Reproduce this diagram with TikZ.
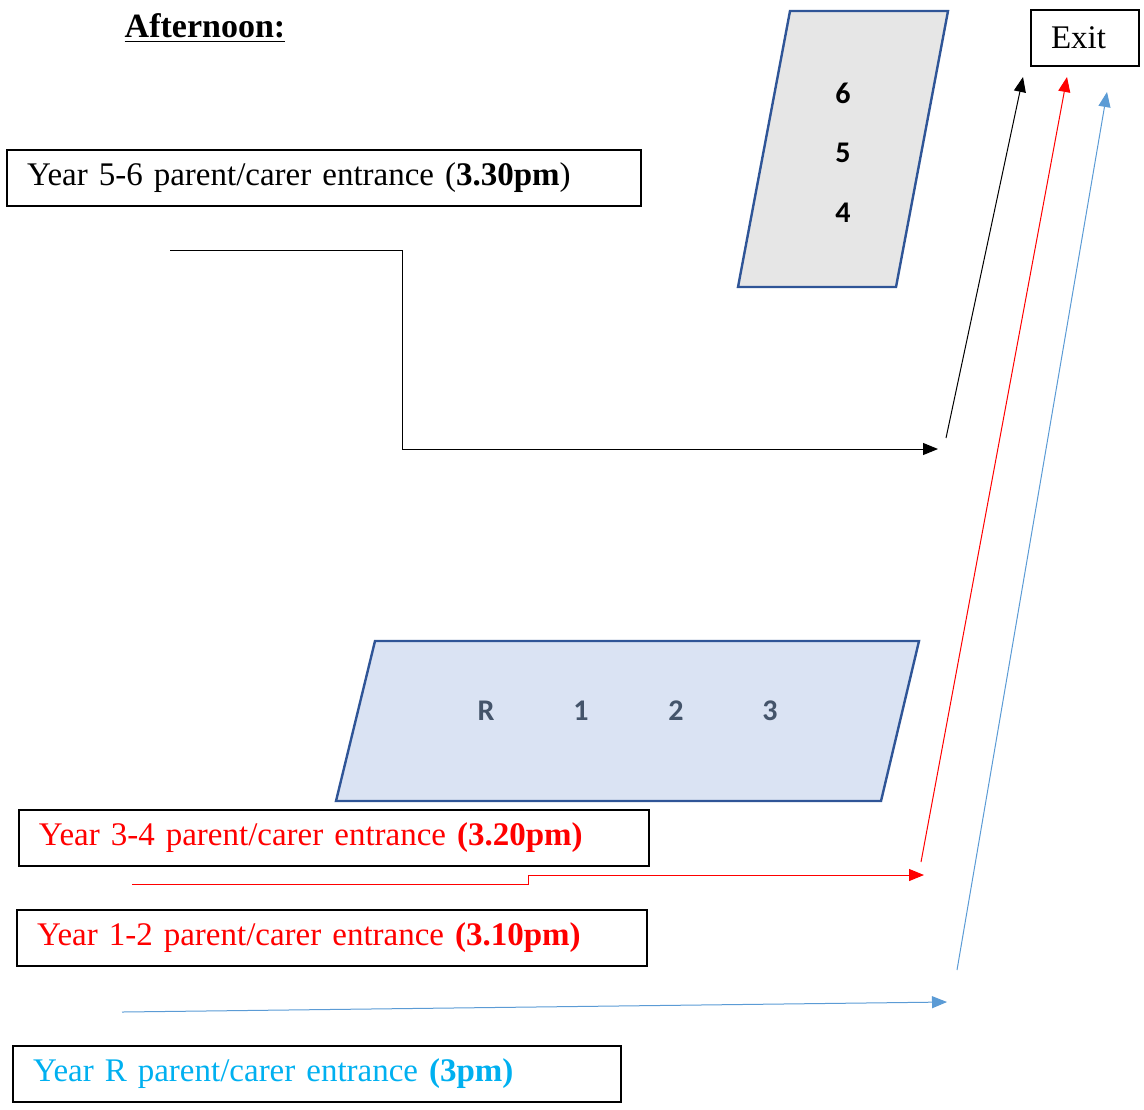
\documentclass[tikz,border=0pt]{standalone}
\usepackage{fontspec}
\setmainfont{Liberation Serif}
\newfontfamily\roomfont{Carlito}
\usepackage{xcolor}
\usetikzlibrary{calc, arrows.meta, positioning}

\definecolor{roomedge}{HTML}{2F5597}
\definecolor{roomgrey}{HTML}{E6E6E6}
\definecolor{roomblue}{HTML}{DAE3F3}
\definecolor{roomtext}{HTML}{44546A}
\definecolor{pathblue}{HTML}{5B9BD5}
\definecolor{textcyan}{HTML}{00B0F0}

\begin{document}
\begin{tikzpicture}[x=0.5pt, y=-0.5pt, >={Triangle[length=7.5pt, width=6pt]}, font=\fontsize{16.5}{19}\selectfont]
	\tikzstyle{entry} = [draw=black, line width=1pt, rectangle, anchor=north west, minimum height=28pt, inner xsep=10pt, align=left]
	\tikzstyle{room} = [draw=roomedge, line width=1.2pt]
	\tikzstyle{year} = [font=\roomfont\bfseries\fontsize{15}{18}\selectfont]
	\tikzstyle{walk} = [line width=0.5pt]
	
	\useasboundingbox (0,0) rectangle (1144,1109);
	
	\node[font=\fontsize{17}{20}\selectfont]	at (205,28)		(title)	{\underline{\textbf{Afternoon:}}};
	\node[entry, text width=34pt]				at (1030,9)		(exit)	{Exit};
	
	% classrooms
	\draw[room, fill=roomgrey] (790,11) -- (948,11) -- (896,287) -- (738,287) -- cycle;
	\draw[room, fill=roomblue] (375,641) -- (919,641) -- (881,801) -- (336,801) -- cycle;
	\node[year]					at (843,93)		(y6)	{6};
	\node[year]					at (843,153)	(y5)	{5};
	\node[year]					at (843,213)	(y4)	{4};
	\node[year, text=roomtext]	at (486,711)	(yR)	{R};
	\node[year, text=roomtext]	at (581,711)	(y1)	{1};
	\node[year, text=roomtext]	at (676,711)	(y2)	{2};
	\node[year, text=roomtext]	at (770,711)	(y3)	{3};
	
	% entrances
	\node[entry, text width=297pt]					at (6,149)		(e56)	{Year 5-6 parent/carer entrance (\textbf{3.30pm})};
	\node[entry, text width=295pt, text=red]		at (18,809)		(e34)	{Year 3-4 parent/carer entrance \textbf{(3.20pm)}};
	\node[entry, text width=295pt, text=red]		at (16,909)		(e12)	{Year 1-2 parent/carer entrance \textbf{(3.10pm)}};
	\node[entry, text width=284pt, text=textcyan]	at (12,1045)	(eR)	{Year R parent/carer entrance \textbf{(3pm)}};
	
	\coordinate (b0) at (170,250);
	\coordinate (bk) at (402,449);
	\coordinate (b1) at (938,449);
	\coordinate (b2) at (946,438);
	\coordinate (b3) at (1023,77);
	\coordinate (r0) at (132,884);
	\coordinate (rk) at (528,875);
	\coordinate (r1) at (924,875);
	\coordinate (r2) at (921,862);
	\coordinate (r3) at (1067,77);
	\coordinate (c0) at (122,1012);
	\coordinate (c1) at (947,1002);
	\coordinate (c2) at (957,970);
	\coordinate (c3) at (1107,92);
	
	\draw[walk, ->] (b0) -| (bk) -- (b1);
	\draw[walk, ->] (b2) -- (b3);
	\draw[walk, ->, red] (r0) -| (rk) -- (r1);
	\draw[walk, ->, red] (r2) -- (r3);
	\draw[walk, ->, pathblue] (c0) -- (c1);
	\draw[walk, ->, pathblue] (c2) -- (c3);
\end{tikzpicture}
\end{document}
